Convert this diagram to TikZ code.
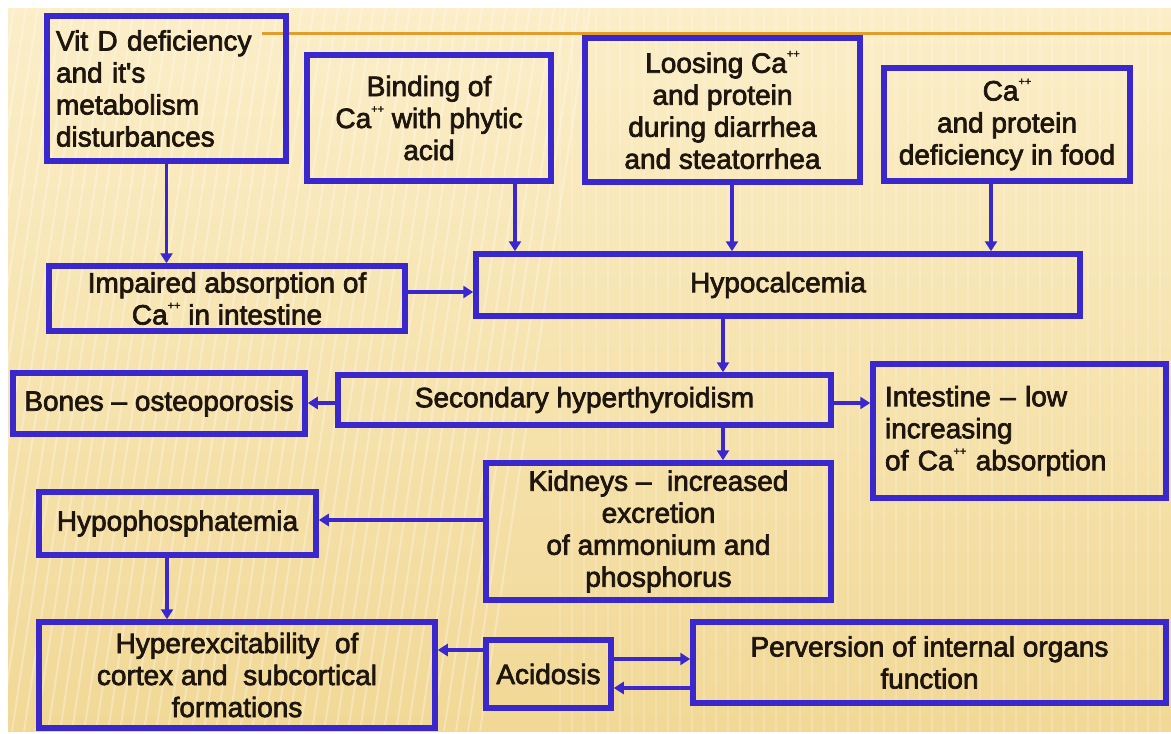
\documentclass[tikz,border=0pt]{standalone}
\usepackage{fontspec}
\setmainfont{Liberation Sans}
\newfontfamily\boxfont{Liberation Sans}[FakeBold=2.5]
\usetikzlibrary{arrows.meta}
\definecolor{boxblue}{RGB}{58,40,205}
\definecolor{txt}{RGB}{30,22,14}
\definecolor{bgtop}{RGB}{251,238,200}
\definecolor{bgbot}{RGB}{241,216,150}
\definecolor{orangeline}{RGB}{226,158,45}
\newcommand\cappl{\raisebox{0.55em}{\fontsize{11}{11}\selectfont ++}}
\begin{document}
\begin{tikzpicture}[x=1pt,y=-1pt,
  box/.style={draw=boxblue, line width=5.5pt, rectangle, inner sep=0pt, align=center, text=txt,
              font=\boxfont\fontsize{28}{32}\selectfont},
  arr/.style={draw=boxblue, line width=3.8pt, -{Triangle[length=10pt,width=12pt]}},
  bgstripe/.style={white, opacity=0.3, line width=2pt}
]
\useasboundingbox (0,0) rectangle (1171,734);
\shade[top color=bgtop, bottom color=bgbot] (8,8) rectangle (1171,731);
\begin{scope}
  \clip (8,8) rectangle (1171,731);
  \foreach \i in {-120,-108,...,480} \draw[bgstripe] (\i,731) -- (\i+110,8);
  \foreach \i in {560,572,...,1170} \draw[white, opacity=0.18, line width=2pt] (\i,8) -- (\i,731);
\end{scope}
\draw[orangeline, line width=3pt] (262,33) -- (1171,33);

\node[box, minimum width=239pt, minimum height=145pt, align=left, text width=221pt] (vitd) at (166.5,88.5)
  {Vit D deficiency\\and it's\\metabolism\\disturbances};
\node[box, minimum width=244pt, minimum height=126pt] (bind) at (429,118)
  {Binding of\\Ca\cappl{} with phytic\\acid};
\node[box, minimum width=275pt, minimum height=144pt] (loos) at (722.5,110)
  {Loosing Ca\cappl\\and protein\\during diarrhea\\and steatorrhea};
\node[box, minimum width=246pt, minimum height=113pt] (cadef) at (1007,124.5)
  {Ca\cappl\\and protein\\deficiency in food};
\node[box, minimum width=356pt, minimum height=65pt] (imp) at (227,298.5)
  {Impaired absorption of\\Ca\cappl{} in intestine};
\node[box, minimum width=604pt, minimum height=62pt] (hypo) at (778,285)
  {Hypocalcemia};
\node[box, minimum width=292pt, minimum height=61pt] (bones) at (159,403.5)
  {Bones – osteoporosis};
\node[box, minimum width=493pt, minimum height=50pt] (sec) at (584.5,400)
  {Secondary hyperthyroidism};
\node[box, minimum width=293pt, minimum height=134pt, align=left, text width=269pt] (intest) at (1019.5,431)
  {Intestine – low\\increasing\\of Ca\cappl{} absorption};
\node[box, minimum width=345pt, minimum height=137pt] (kid) at (658.5,531.5)
  {Kidneys –\ \ increased\\excretion\\of ammonium and\\phosphorus};
\node[box, minimum width=277pt, minimum height=63pt] (phos) at (177.5,523.5)
  {Hypophosphatemia};
\node[box, minimum width=396pt, minimum height=106pt] (hyper) at (237,675)
  {Hyperexcitability\ \ of\\cortex and\ \ subcortical\\formations};
\node[box, minimum width=125pt, minimum height=68pt] (acid) at (548.5,674)
  {Acidosis};
\node[box, minimum width=473pt, minimum height=81pt] (perv) at (929.5,662.5)
  {Perversion of internal organs\\function};

\draw[arr] (vitd.south) -- (vitd.south |- imp.north);
\draw[arr] (bind.south -| 515,0) -- (hypo.north -| 515,0);
\draw[arr] (loos.south -| 732,0) -- (hypo.north -| 732,0);
\draw[arr] (cadef.south -| 991,0) -- (hypo.north -| 991,0);
\draw[arr] (imp.east |- 0,292) -- (hypo.west |- 0,292);
\draw[arr] (hypo.south -| 723,0) -- (sec.north -| 723,0);
\draw[arr] (sec.west |- 0,403) -- (bones.east |- 0,403);
\draw[arr] (sec.east |- 0,403) -- (intest.west |- 0,403);
\draw[arr] (sec.south -| 723,0) -- (kid.north -| 723,0);
\draw[arr] (kid.west |- 0,520) -- (phos.east |- 0,520);
\draw[arr] (phos.south -| 167,0) -- (hyper.north -| 167,0);
\draw[arr] (acid.west |- 0,650) -- (hyper.east |- 0,650);
\draw[arr] (acid.east |- 0,659) -- (perv.west |- 0,659);
\draw[arr] (perv.west |- 0,688) -- (acid.east |- 0,688);
\end{tikzpicture}
\end{document}
